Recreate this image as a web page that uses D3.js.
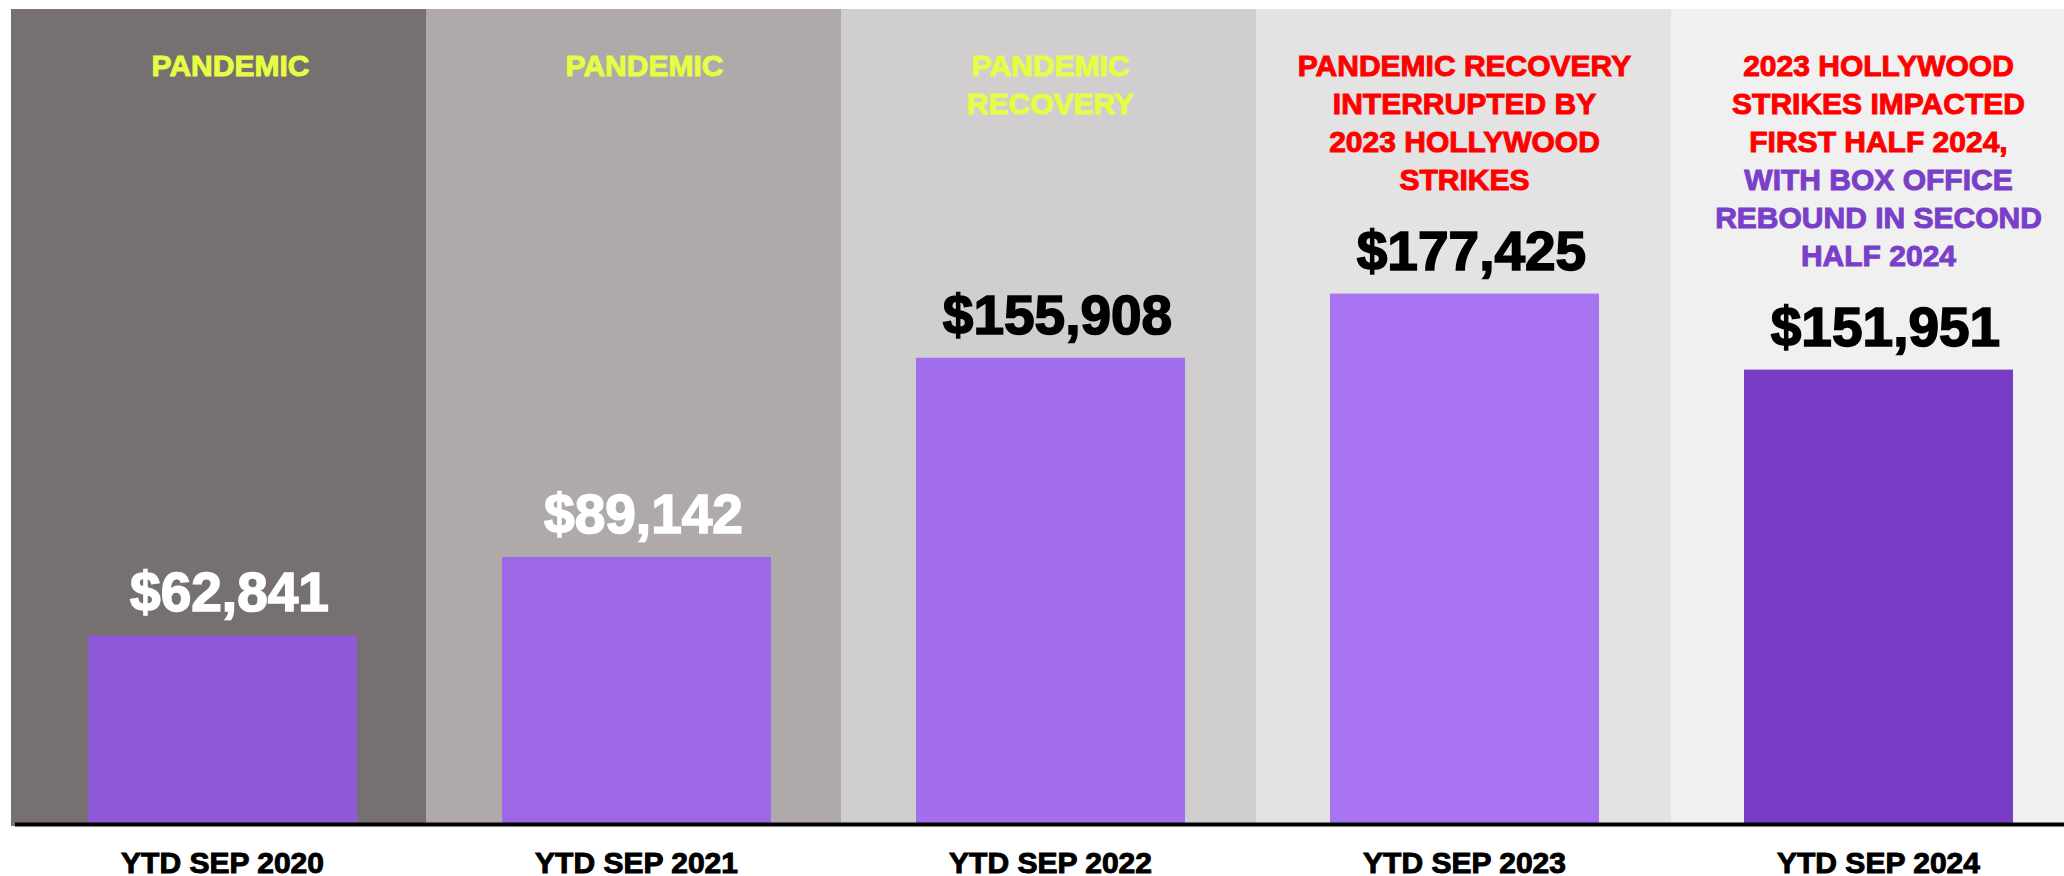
<!DOCTYPE html>
<html>
<head>
<meta charset="utf-8">
<script src="https://cdn.jsdelivr.net/npm/d3@7"></script>
<style>
  html, body { margin: 0; padding: 0; background: #fff; }
  .chart text { font-family: "Liberation Sans", Arial, sans-serif; font-weight: bold; }
</style>
</head>
<body>
<div class="chart"></div>
<script>
// Data
const periods = ["YTD SEP 2020", "YTD SEP 2021", "YTD SEP 2022", "YTD SEP 2023", "YTD SEP 2024"];
const grosses = [62841, 89142, 155908, 177425, 151951];
const notes = [
  [["PANDEMIC", 0]],
  [["PANDEMIC", 0]],
  [["PANDEMIC", 0], ["RECOVERY", 0]],
  [["PANDEMIC RECOVERY", 1], ["INTERRUPTED BY", 1], ["2023 HOLLYWOOD", 1], ["STRIKES", 1]],
  [["2023 HOLLYWOOD", 1], ["STRIKES IMPACTED", 1], ["FIRST HALF 2024,", 1],
   ["WITH BOX OFFICE", 2], ["REBOUND IN SECOND", 2], ["HALF 2024", 2]]
];

// Styles
const bandColors = ["#767170", "#afaaa9", "#d1cecf", "#e3e3e3", "#f0f0f0"];
const barColors = ["#8f5ad9", "#9d68e7", "#a36eed", "#a874f2", "#783dc6"];
const valueColors = ["#ffffff", "#ffffff", "#000000", "#000000", "#000000"];
const noteColors = ["#e6fc45", "#ff0000", "#7a3fc8"];
const noteNudge = [8, 8, 0, 0, 0];

// Sizes
const w = 2064;
const h = 876;
const plotTop = 9;
const baseY = 823;

const svg = d3
  .select(".chart")
  .append("svg")
  .attr("width", w)
  .attr("height", h);

const data = periods.map((p, i) => ({ period: p, gross: grosses[i], note: notes[i], i }));

// Scales
const bgX = d3.scaleBand().domain(periods).range([11, 2086]).padding(0);

const xScale = d3
  .scaleBand()
  .domain(periods)
  .range([88, 2013])
  .paddingInner(0.3502)
  .paddingOuter(0);

const yScale = d3.scaleLinear().domain([0, 272800]).range([baseY, plotTop]);

const mid = (p) => xScale(p) + xScale.bandwidth() / 2;

// Background bands
svg
  .selectAll("rect.band")
  .data(data)
  .enter()
  .append("rect")
  .attr("class", "band")
  .attr("x", (d) => bgX(d.period))
  .attr("y", plotTop)
  .attr("width", bgX.bandwidth() + 0.5)
  .attr("height", 826 - plotTop)
  .attr("fill", (d) => bandColors[d.i]);

// Bars
svg
  .selectAll("rect.bar")
  .data(data)
  .enter()
  .append("rect")
  .attr("class", "bar")
  .attr("x", (d) => xScale(d.period))
  .attr("y", (d) => yScale(d.gross))
  .attr("width", xScale.bandwidth())
  .attr("height", (d) => baseY - yScale(d.gross))
  .attr("fill", (d) => barColors[d.i]);

// Value labels
svg
  .selectAll("text.value")
  .data(data)
  .enter()
  .append("text")
  .attr("class", "value")
  .attr("x", (d) => mid(d.period) + 7)
  .attr("y", (d) => yScale(d.gross) - 24)
  .attr("text-anchor", "middle")
  .attr("font-size", 55)
  .attr("fill", (d) => valueColors[d.i])
  .attr("stroke", (d) => valueColors[d.i])
  .attr("stroke-width", 1.6)
  .text((d) => "$" + d3.format(",")(d.gross));

// Annotations
const noteGroups = svg
  .selectAll("text.note")
  .data(data)
  .enter()
  .append("text")
  .attr("class", "note")
  .attr("text-anchor", "middle")
  .attr("font-size", 30);

noteGroups
  .selectAll("tspan")
  .data((d) => d.note.map((n) => ({ line: n[0], c: n[1], x: mid(d.period) + noteNudge[d.i] })))
  .enter()
  .append("tspan")
  .attr("x", (d) => d.x)
  .attr("y", (d, j) => 76 + j * 38)
  .attr("fill", (d) => noteColors[d.c])
  .attr("stroke", (d) => noteColors[d.c])
  .attr("stroke-width", 1)
  .text((d) => d.line);

// X Axis
const xAxis = svg
  .append("g")
  .attr("transform", `translate(0, ${baseY + 1.5})`)
  .call(d3.axisBottom(xScale).tickSize(0).tickPadding(0));

xAxis.select(".domain").remove();
xAxis
  .append("line")
  .attr("x1", 15)
  .attr("x2", w)
  .attr("stroke", "#000")
  .attr("stroke-width", 4);

xAxis
  .selectAll(".tick text")
  .attr("y", 48)
  .attr("dy", 0)
  .attr("font-size", 30)
  .attr("fill", "#000")
  .attr("stroke", "#000")
  .attr("stroke-width", 1)
  .style("font-family", '"Liberation Sans", Arial, sans-serif')
  .style("font-weight", "bold");
</script>
</body>
</html>
